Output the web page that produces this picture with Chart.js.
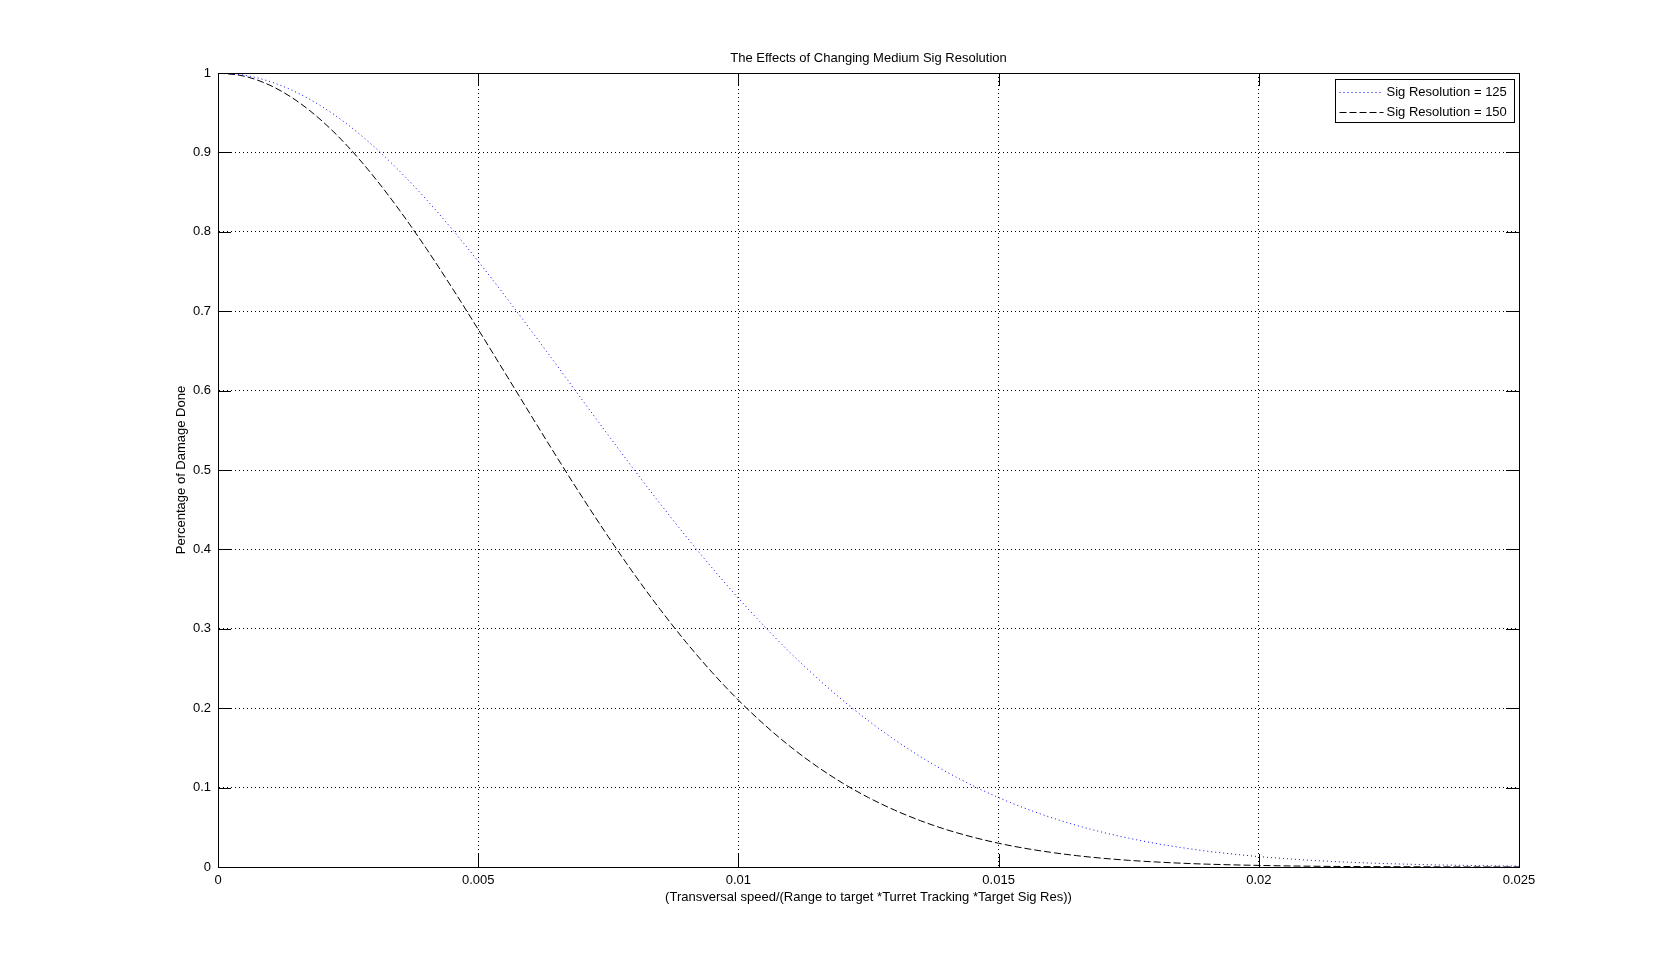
<!DOCTYPE html>
<html>
<head>
<meta charset="utf-8">
<script src="https://cdn.jsdelivr.net/npm/chart.js@4.4.1/dist/chart.umd.min.js"></script>
<style>
  html, body { margin: 0; padding: 0; background: #fff; }
  canvas { display: block; }
</style>
</head>
<body>
<canvas id="chart" width="1680" height="974"></canvas>
<script>
// values
const xValues = [
  0, 0.0005, 0.001, 0.0015, 0.002, 0.0025, 0.003, 0.0035, 0.004, 0.0045,
  0.005, 0.0055, 0.006, 0.0065, 0.007, 0.0075, 0.008, 0.0085, 0.009, 0.0095,
  0.01, 0.0105, 0.011, 0.0115, 0.012, 0.0125, 0.013, 0.0135, 0.014, 0.0145,
  0.015, 0.0155, 0.016, 0.0165, 0.017, 0.0175, 0.018, 0.0185, 0.019, 0.0195,
  0.02, 0.0205, 0.021, 0.0215, 0.022, 0.0225, 0.023, 0.0235, 0.024, 0.0245, 0.025
];
const sig125 = [
  1, 0.9973, 0.9892, 0.9759, 0.9576, 0.9346, 0.9071, 0.8757, 0.8409, 0.8031,
  0.7628, 0.7206, 0.6771, 0.6328, 0.5882, 0.5438, 0.5, 0.4573, 0.4159, 0.3763,
  0.3386, 0.3030, 0.2697, 0.2388, 0.2102, 0.1841, 0.1604, 0.1389, 0.1197, 0.1026,
  0.0874, 0.0741, 0.0625, 0.0524, 0.0437, 0.0363, 0.0299, 0.0246, 0.0200, 0.0163,
  0.0131, 0.0106, 0.0084, 0.0067, 0.0053, 0.0042, 0.0033, 0.0025, 0.0020, 0.0015, 0.0012
];
const sig150 = [
  1, 0.9961, 0.9845, 0.9655, 0.9395, 0.9071, 0.8690, 0.8261, 0.7792, 0.7292,
  0.6771, 0.6239, 0.5704, 0.5174, 0.4657, 0.4159, 0.3686, 0.3241, 0.2827, 0.2447,
  0.2102, 0.1792, 0.1515, 0.1271, 0.1058, 0.0874, 0.0717, 0.0583, 0.0470, 0.0377,
  0.0299, 0.0236, 0.0185, 0.0143, 0.0110, 0.0084, 0.0064, 0.0048, 0.0036, 0.0027,
  0.0020, 0.0014, 0.0010, 0.0007, 0.0005, 0.0004, 0.0003, 0.0002, 0.0001, 0.0001, 0.0001
];
const seriesLabels = ["Sig Resolution = 125", "Sig Resolution = 150"];
const xTicks = [0, 0.005, 0.01, 0.015, 0.02, 0.025];
const xTickLabels = ["0", "0.005", "0.01", "0.015", "0.02", "0.025"];
const yTicks = [0, 0.1, 0.2, 0.3, 0.4, 0.5, 0.6, 0.7, 0.8, 0.9, 1];
const yTickLabels = ["0", "0.1", "0.2", "0.3", "0.4", "0.5", "0.6", "0.7", "0.8", "0.9", "1"];
const chartTitle = "The Effects of Changing Medium Sig Resolution";

const FONT = { family: "'Liberation Sans', Arial, sans-serif", size: 13 };
const TICK_LEN = 13;

const toPoints = (ys) => ys.map((y, i) => ({ x: xValues[i], y: y }));

// title, box round the axes, inward tick marks and the legend, matlab style
const axesFrame = {
  id: "axesFrame",
  afterDraw(chart) {
    const { ctx, chartArea: a, scales } = chart;
    const xs = scales.x, ys = scales.y;
    ctx.save();
    ctx.font = FONT.size + "px " + FONT.family;
    ctx.fillStyle = "#000";
    ctx.textAlign = "center";
    ctx.textBaseline = "middle";
    ctx.fillText(chartTitle, (a.left + a.right) / 2, a.top - 15);

    ctx.strokeStyle = "#000";
    ctx.lineWidth = 1;
    ctx.setLineDash([]);
    ctx.strokeRect(a.left + 0.5, a.top + 0.5, a.right - a.left, a.bottom - a.top);

    ctx.beginPath();
    xTicks.forEach((v) => {
      const px = Math.round(xs.getPixelForValue(v)) + 0.5;
      ctx.moveTo(px, a.bottom);
      ctx.lineTo(px, a.bottom - TICK_LEN);
      ctx.moveTo(px, a.top);
      ctx.lineTo(px, a.top + TICK_LEN);
    });
    yTicks.forEach((v) => {
      const py = Math.round(ys.getPixelForValue(v)) + 0.5;
      ctx.moveTo(a.left, py);
      ctx.lineTo(a.left + TICK_LEN, py);
      ctx.moveTo(a.right, py);
      ctx.lineTo(a.right - TICK_LEN, py);
    });
    ctx.stroke();

    // legend
    const boxW = 179, boxH = 43;
    const bx = Math.round(a.right - 5 - boxW) + 0.5;
    const by = Math.round(a.top + 6) + 0.5;
    ctx.fillStyle = "#fff";
    ctx.fillRect(bx, by, boxW, boxH);
    ctx.strokeRect(bx, by, boxW, boxH);
    ctx.textAlign = "left";
    chart.data.datasets.forEach((ds, i) => {
      const ry = Math.round(by + 12 + i * 20) + 0.5;
      ctx.strokeStyle = ds.borderColor;
      ctx.setLineDash(ds.borderDash);
      ctx.beginPath();
      ctx.moveTo(bx + 4, ry);
      ctx.lineTo(bx + 48, ry);
      ctx.stroke();
      ctx.fillStyle = "#000";
      ctx.fillText(ds.label, bx + 51, ry);
    });
    ctx.restore();
  }
};

new Chart(document.getElementById("chart"), {
  type: "line",
  data: {
    datasets: [
      {
        label: seriesLabels[0],
        data: toPoints(sig125),
        borderColor: "#0000ff",
        borderWidth: 1,
        borderDash: [1, 3],
        pointRadius: 0,
        cubicInterpolationMode: "monotone",
        fill: false,
      },
      {
        label: seriesLabels[1],
        data: toPoints(sig150),
        borderColor: "#000000",
        borderWidth: 1,
        borderDash: [7, 3],
        pointRadius: 0,
        cubicInterpolationMode: "monotone",
        fill: false,
      },
    ],
  },
  options: {
    responsive: false,
    animation: false,
    layout: { padding: { left: 0, right: 161, top: 73, bottom: 0 } },
    plugins: {
      legend: { display: false },
      tooltip: { enabled: false },
      title: { display: false },
    },
    scales: {
      x: {
        type: "linear",
        min: 0,
        max: 0.025,
        afterBuildTicks: (scale) => { scale.ticks = xTicks.map((v) => ({ value: v })); },
        afterFit: (scale) => { scale.height = 107; },
        ticks: {
          color: "#000",
          font: FONT,
          padding: 6,
          maxRotation: 0,
          callback: (value, i) => xTickLabels[i],
        },
        grid: {
          color: "#000",
          lineWidth: 1,
          drawTicks: false,
        },
        border: { display: true, color: "#000", dash: [1, 3] },
        title: {
          display: true,
          text: "(Transversal speed/(Range to target *Turret Tracking *Target Sig Res))",
          color: "#000",
          font: FONT,
          padding: { top: 0, bottom: 69 },
        },
      },
      y: {
        min: 0,
        max: 1,
        afterBuildTicks: (scale) => { scale.ticks = yTicks.map((v) => ({ value: v })); },
        afterFit: (scale) => { scale.width = 218; },
        ticks: {
          color: "#000",
          font: FONT,
          padding: 7,
          callback: (value, i) => yTickLabels[i],
        },
        grid: {
          color: "#000",
          lineWidth: 1,
          drawTicks: false,
        },
        border: { display: true, color: "#000", dash: [1, 3] },
        title: {
          display: true,
          text: "Percentage of Damage Done",
          color: "#000",
          font: FONT,
          padding: { top: 174, bottom: 0 },
        },
      },
    },
  },
  plugins: [
    {
      id: "dottedGrid",
      beforeDraw(chart) {
        Object.values(chart.scales).forEach((s) => {
          s.options.grid.borderDash = [1, 3];
        });
      },
    },
    axesFrame,
  ],
});
</script>
</body>
</html>
